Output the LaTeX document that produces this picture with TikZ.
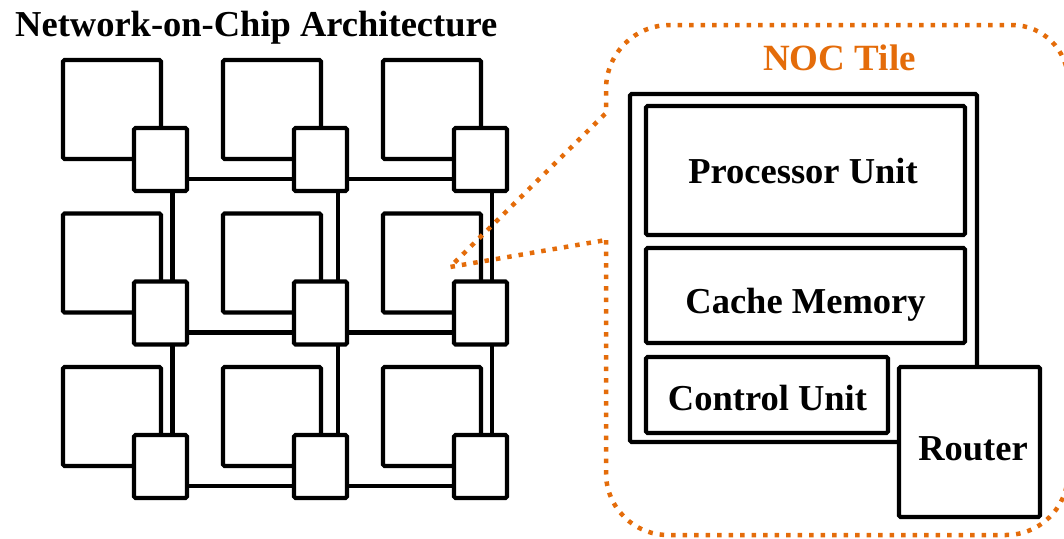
\documentclass[tikz,border=0pt]{standalone}
\usepackage{fontspec}
\setmainfont{Liberation Serif}
\definecolor{nocorange}{HTML}{E46C0A}
\begin{document}
\begin{tikzpicture}[x=1pt,y=-1pt,
  box/.style={draw, line width=4.2pt, rounded corners=1.5pt, fill=white,
              inner sep=0pt, outer sep=0pt},
  pe/.style={box, minimum width=98pt, minimum height=99pt},
  rt/.style={box, minimum width=53pt, minimum height=63pt},
  lbl/.style={font=\fontsize{36.5}{40}\selectfont\bfseries, inner sep=0pt, anchor=base},
  link/.style={line width=4.2pt},
  callout/.style={draw=nocorange, line width=4.5pt, dash pattern=on 4.5pt off 7pt}]
\useasboundingbox (0,0) rectangle (1064,538);
\clip (0,0) rectangle (1064,538);

% title
\node[lbl, anchor=base west] (title) at (15,36) {Network-on-Chip Architecture};

% 3x3 mesh: processing elements
\foreach \c/\x in {1/112,2/272,3/432}
  \foreach \r/\y in {1/109.5,2/263,3/416.5}
    \node[pe] (P-\r-\c) at (\x,\y) {};

% routers (placed as coordinates first so links can refer to them)
\foreach \c/\x in {1/160.5,2/320.5,3/480.5}
  \foreach \r/\y in {1/159.5,2/313,3/466.5}
    \node[rt, draw=none, fill=none] (R-\r-\c) at (\x,\y) {};

% horizontal links
\foreach \r in {1,2,3} {
  \draw[link] ([yshift=12pt]R-\r-1.south east) -- ([yshift=12pt]R-\r-2.south west);
  \draw[link] ([yshift=12pt]R-\r-2.south east) -- ([yshift=12pt]R-\r-3.south west);
}
% vertical links
\foreach \c/\dx in {1/-14.5,2/-9,3/-15} {
  \draw[link] ([xshift=\dx pt]R-1-\c.south east) -- ([xshift=\dx pt]R-2-\c.north east);
  \draw[link] ([xshift=\dx pt]R-2-\c.south east) -- ([xshift=\dx pt]R-3-\c.north east);
}
% router boxes on top
\foreach \c/\x in {1/160.5,2/320.5,3/480.5}
  \foreach \r/\y in {1/159.5,2/313,3/466.5}
    \node[rt] at (R-\r-\c) {};

% callout bubble
\draw[callout] (606,240) [rounded corners=62pt] -- (606,535) -- (1068,535)
  [rounded corners=56pt] -- (1068,25) [rounded corners=64pt] -- (606,25)
  [sharp corners] -- (606,113) -- (450,267) -- cycle;

\node[lbl, text=nocorange, font=\fontsize{37}{40}\selectfont\bfseries] (tiletitle) at (839.5,70) {NOC Tile};

% tile contents
\node[box, minimum width=347pt, minimum height=348pt] (tile) at (803.5,268) {};
\node[box, minimum width=319pt, minimum height=129pt] (pu) at (805.5,170.5) {};
\node[box, minimum width=319pt, minimum height=95pt] (cm) at (805.5,295.5) {};
\node[box, minimum width=242pt, minimum height=76pt] (cu) at (767,395) {};
\node[box, minimum width=141pt, minimum height=150pt] (tr) at (969.5,442) {};

\node[lbl] (pul) at (803,183) {Processor Unit};
\node[lbl] (cml) at (805.5,313) {Cache Memory};
\node[lbl] (cul) at (767.5,410) {Control Unit};
\node[lbl] (trl) at (973,460) {Router};
\end{tikzpicture}
\end{document}
